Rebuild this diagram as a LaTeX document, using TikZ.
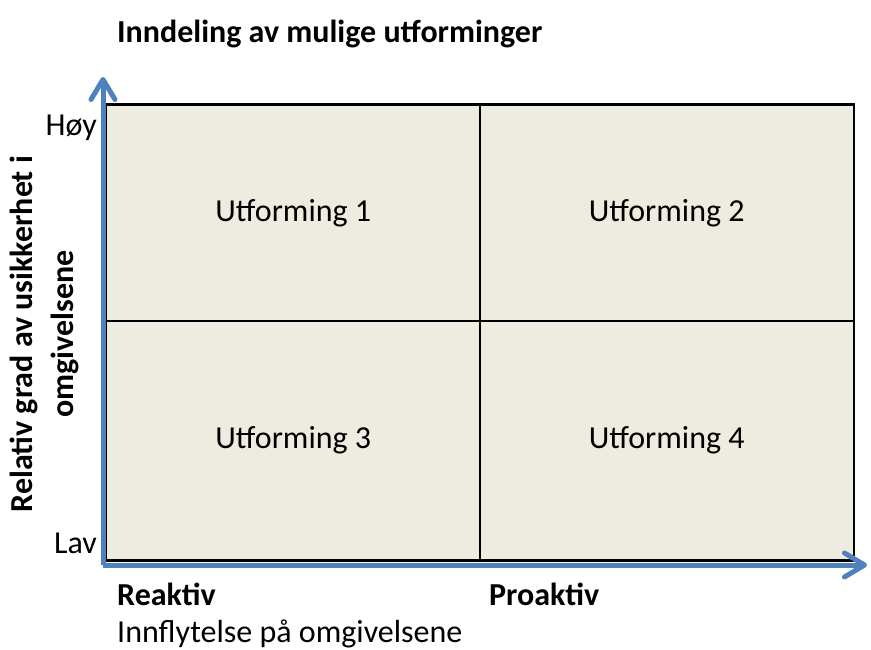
\documentclass[tikz,border=0pt]{standalone}
\usepackage{fontspec}
\setmainfont{Carlito}
\usetikzlibrary{arrows.meta}
\definecolor{axisblue}{RGB}{79,129,189}
\definecolor{cellfill}{RGB}{238,236,225}

\begin{document}
\begin{tikzpicture}
	[x=1pt, y=-1pt, font=\fontsize{32}{35}\selectfont,
	cell/.style={rectangle,draw=black,line width=1.5pt,fill=cellfill,
		minimum width=373.5pt,inner sep=0pt},
	axis/.style={draw=axisblue,line width=5pt,
		-{Straight Barb[round,length=20pt,width=24pt]}},
	lbl/.style={inner sep=0pt},
	boldlbl/.style={lbl,font=\fontsize{32}{35}\selectfont\bfseries}]
	\useasboundingbox (0,0) rectangle (871,650);
	% quadrants
	\node (u1) [cell,minimum height=216pt] at (293.3,213) {Utforming 1};
	\node (u2) [cell,minimum height=216pt] at (666.7,213) {Utforming 2};
	\node (u3) [cell,minimum height=239pt] at (293.3,440.5) {Utforming 3};
	\node (u4) [cell,minimum height=239pt] at (666.7,440.5) {Utforming 4};
	\draw [line width=2.5pt] (u1.north west) rectangle (u4.south east);
	% axes
	\coordinate (o) at (103,565);
	\coordinate (ytip) at (103,77);
	\coordinate (xtip) at (867,565);
	\draw [axis] (o) -- (ytip);
	\draw [axis] (o) -- (xtip);
	% labels
	\node (title) [boldlbl,anchor=base west] at (117,43) {Inndeling av mulige utforminger};
	\node (hoy) [lbl,anchor=east] at (97,128) {Høy};
	\node (lav) [lbl,anchor=east] at (97,543) {Lav};
	\node (reaktiv) [boldlbl,anchor=base west] at (117,605) {Reaktiv};
	\node (proaktiv) [boldlbl,anchor=base west] at (489,605) {Proaktiv};
	\node (xlabel) [lbl,anchor=base west] at (117,642) {Innflytelse på omgivelsene};
	\node (ylabel) [boldlbl,rotate=90,align=center,
		font=\fontsize{32}{41}\selectfont\bfseries] at (44,334)
		{Relativ grad av usikkerhet i\\omgivelsene};
\end{tikzpicture}
\end{document}
